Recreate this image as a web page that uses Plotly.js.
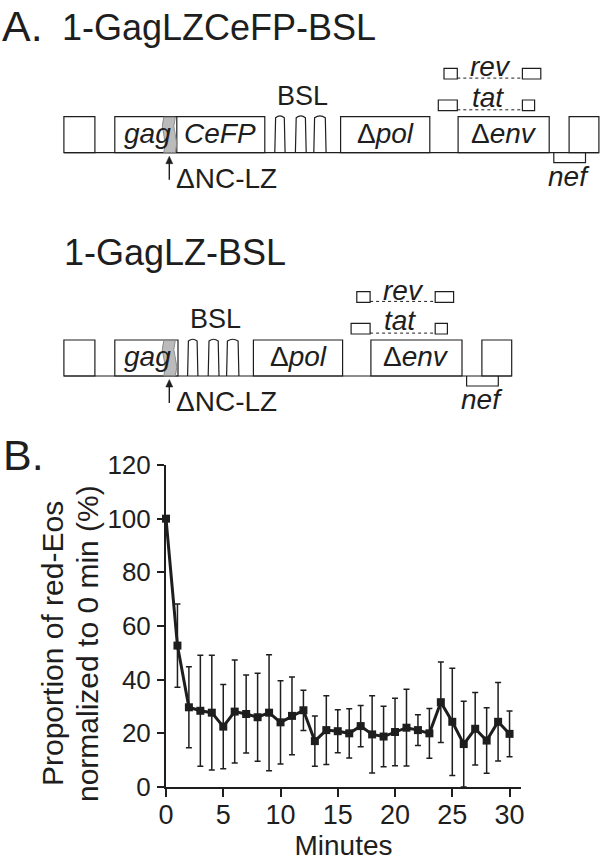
<!DOCTYPE html>
<html>
<head>
<meta charset="utf-8">
<script src="https://cdn.plot.ly/plotly-3.0.1.min.js"></script>
<style>html,body{margin:0;padding:0;background:#fff}#chart{width:600px;height:863px}</style>
</head>
<body>
<div id="chart"></div>
<script>
// ---- Data (panel B) ----
const minutes = [0,1,2,3,4,5,6,7,8,9,10,11,12,13,14,15,16,17,18,19,20,21,22,23,24,25,26,27,28,29,30];
const redEosPct = [100,52.7,29.7,28.4,27.7,22.5,28.1,27.2,26.0,27.7,24.1,26.5,28.6,17.1,21.2,20.8,20.0,22.7,19.6,18.8,20.5,22.1,21.2,20.0,31.6,24.3,16.0,21.7,17.3,24.3,19.8];
const redEosErr = [0,15.5,15.1,20.7,21.4,15.7,19.2,14.5,16.4,21.6,15.5,14.5,7.5,9.4,12.8,8.0,9.2,7.7,14.4,11.3,12.6,14.3,5.7,9.3,15.0,20.0,16.0,13.5,12.2,14.6,8.5];
const xTickVals = [0,5,10,15,20,25,30];
const yTickVals = [0,20,40,60,80,100,120];

// ---- Text (panel A) ----
const panelA = "A.";
const panelB = "B.";
const construct1 = "1-GagLZCeFP-BSL";
const construct2 = "1-GagLZ-BSL";
const yTitle1 = "Proportion of red-Eos";
const yTitle2 = "normalized to 0 min (%)";
const xTitle = "Minutes";

const W = 600, H = 863;
const px = x => x / W;
const py = y => 1 - y / H;
const INK = '#1e1e1e';
const FONT = 'Liberation Sans, Arial, sans-serif';

const shapes = [];
const annotations = [];

function pathStr(cmds) {
  return cmds.map(c => {
    const L = c[0]; const pts = [];
    for (let i = 1; i < c.length; i += 2) pts.push(px(c[i]) + ',' + py(c[i+1]));
    return L + ' ' + pts.join(' ');
  }).join(' ');
}
function rect(x0, y0, x1, y1, opts) {
  shapes.push(Object.assign({type:'rect', xref:'paper', yref:'paper', x0:px(x0), x1:px(x1), y0:py(y0), y1:py(y1),
    line:{color:INK, width:1.2}, fillcolor:'rgba(0,0,0,0)'}, opts || {}));
}
function line(x0, y0, x1, y1, opts) {
  shapes.push(Object.assign({type:'line', xref:'paper', yref:'paper', x0:px(x0), x1:px(x1), y0:py(y0), y1:py(y1),
    line:{color:INK, width:1.2}}, opts || {}));
}
function path(cmds, opts) {
  shapes.push(Object.assign({type:'path', xref:'paper', yref:'paper', path:pathStr(cmds),
    line:{color:INK, width:1.2}, fillcolor:'rgba(0,0,0,0)'}, opts || {}));
}
function text(t, x, y, size, anchor, opts) {
  annotations.push(Object.assign({xref:'paper', yref:'paper', x:px(x), y:py(y), text:t, showarrow:false,
    xanchor:anchor || 'center', yanchor:'middle', font:{family:FONT, size:size, color:INK}}, opts || {}));
}

function construct(top, withCeFP) {
  const bot = top + 36;
  const dx = withCeFP ? 0 : -87.2;
  line(63.9, bot, 598.9 + dx, bot);
  rect(63.9, top, 94.9, bot);
  rect(569.1 + dx, top, 598.9 + dx, bot);
  rect(114.8, top, withCeFP ? 264.8 : 178, bot);
  if (withCeFP) line(176.8, top, 176.8, bot);
  path([['M',163.8,top+0.5],['Q',160.8,top+10,163.8,top+18],['Q',166.8,top+27,163.8,bot],
        ['L',175.3,bot],['Q',178.3,top+27,175.3,top+18],['Q',172.3,top+10,175.3,top+0.5],['Z']],
       {fillcolor:'rgba(150,150,150,0.65)', line:{color:'#8a8a8a', width:1}});
  [[274.8,285.1],[295.4,306.2],[313.8,326.1]].forEach(([a,b]) => {
    const x0 = a + dx, x1 = b + dx, xc = (x0 + x1) / 2;
    path([['M',x0,bot],['L',x0+0.8,top+1],['Q',xc,top-2.5,x1-0.8,top+1],['L',x1,bot]]);
  });
  rect(340.6 + dx, top, 429.8 + dx, bot);
  rect(458.1 + dx, top, 549.2 + dx, bot);
  path([['M',553.8+dx,bot],['L',553.8+dx,bot+10],['L',585.5+dx,bot+10],['L',585.5+dx,bot]]);
  rect(444+dx, top-48.4, 457.3+dx, top-37.7);
  rect(522.4+dx, top-48.4, 540.8+dx, top-37.7);
  line(457.3+dx, top-38.6, 522.4+dx, top-38.6, {line:{color:INK, width:1, dash:'dot'}});
  rect(438.3+dx, top-16.7, 457.3+dx, top-6);
  rect(522.4+dx, top-16.7, 534.6+dx, top-6);
  line(457.3+dx, top-6.9, 522.4+dx, top-6.9, {line:{color:INK, width:1, dash:'dot'}});
  line(169.3, bot+27, 169.3, bot+9, {line:{color:INK, width:1.4}});
  path([['M',169.3,bot+3.5],['L',165.8,bot+11],['L',172.8,bot+11],['Z']], {fillcolor:INK, line:{color:INK, width:0.5}});
  text('<i>gag</i>', 121.5, top+16.5, 28, 'left');
  if (withCeFP) text('<i>CeFP</i>', 182.5, top+16.5, 28, 'left');
  text('BSL', 302.3 + dx, top-20.7, 27, 'center');
  text('Δ<i>pol</i>', 385.2 + dx, top+16.5, 28, 'center');
  text('Δ<i>env</i>', 503.6 + dx, top+16.5, 28, 'center');
  text('<i>rev</i>', 490.8 + dx, top-50, 28, 'center');
  text('<i>tat</i>', 487.5 + dx, top-19.5, 28, 'center');
  text('<i>nef</i>', 569 + dx, bot+23.5, 28, 'center');
  text('ΔNC-LZ', 173.5, bot+25.5, 28, 'left');
}

text(panelA, 0, 25.7, 43, 'left');
text(construct1, 60, 27.5, 36, 'left');
construct(116.7, true);
text(construct2, 62, 252.5, 36, 'left');
construct(340, false);
text(panelB, 1, 455, 43, 'left');
text(yTitle1, 52, 644, 30, 'center', {textangle:-90});
text(yTitle2, 87, 644, 30, 'center', {textangle:-90});

const trace = {
  x: minutes, y: redEosPct, type:'scatter', mode:'lines+markers',
  line:{color:INK, width:3},
  marker:{symbol:'square', size:8, color:INK},
  error_y:{type:'data', array:redEosErr, visible:true, color:INK, thickness:1.5, width:3},
  cliponaxis:false, showlegend:false
};

const layout = {
  width: W, height: H,
  margin:{l:0, r:0, t:0, b:0},
  paper_bgcolor:'#fff', plot_bgcolor:'rgba(0,0,0,0)',
  font:{family:FONT, color:INK},
  showlegend:false,
  xaxis:{domain:[166/W, 521/W], range:[0, 31], showgrid:false, zeroline:false,
    showline:true, linecolor:INK, linewidth:2, ticks:'outside', ticklen:8, tickwidth:2, tickcolor:INK,
    tickvals:xTickVals, tickfont:{family:FONT, size:27, color:INK}, ticklabelstandoff:-5,
    title:{text:xTitle, font:{family:FONT, size:28, color:INK}, standoff:2}, fixedrange:true},
  yaxis:{domain:[1-787/H, 1-465/H], range:[0, 120], showgrid:false, zeroline:false,
    showline:true, linecolor:INK, linewidth:2, ticks:'outside', ticklen:7, tickwidth:2, tickcolor:INK,
    tickvals:yTickVals, tickfont:{family:FONT, size:26, color:INK}, ticklabelstandoff:1, fixedrange:true},
  shapes: shapes,
  annotations: annotations
};

Plotly.newPlot('chart', [trace], layout, {displayModeBar:false, staticPlot:true});
</script>
</body>
</html>
